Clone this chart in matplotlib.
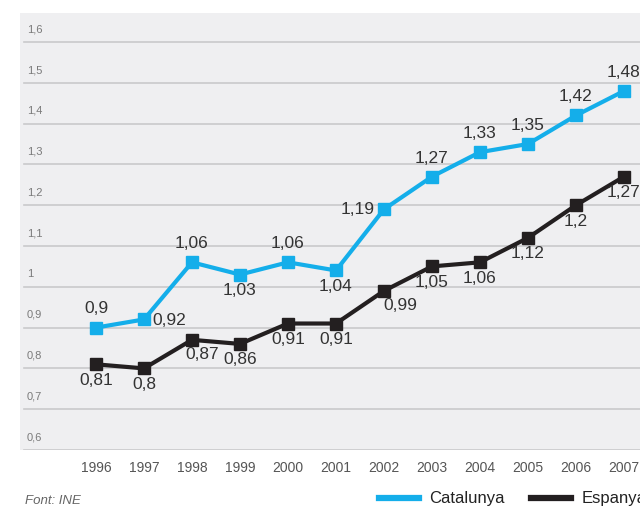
import matplotlib
matplotlib.use("Agg")
import matplotlib.pyplot as plt
from matplotlib.lines import Line2D

years = [1996, 1997, 1998, 1999, 2000, 2001, 2002, 2003, 2004, 2005, 2006, 2007]
catalunya = [0.90, 0.92, 1.06, 1.03, 1.06, 1.04, 1.19, 1.27, 1.33, 1.35, 1.42, 1.48]
espanya = [0.81, 0.80, 0.87, 0.86, 0.91, 0.91, 0.99, 1.05, 1.06, 1.12, 1.20, 1.27]
yticks = [0.6, 0.7, 0.8, 0.9, 1.0, 1.1, 1.2, 1.3, 1.4, 1.5, 1.6]
ytick_labels = ["0,6", "0,7", "0,8", "0,9", "1", "1,1", "1,2", "1,3", "1,4", "1,5", "1,6"]

# label placement
cat_pos = ["above", "right", "above", "below", "above", "below", "left",
           "above", "above", "above", "above", "above"]
esp_pos = ["below", "below", "belowright", "below", "below", "below", "belowright",
           "below", "below", "below", "below", "below"]

plt.rcParams['font.family'] = ['Liberation Sans', 'DejaVu Sans']

blue = "#14aeea"
black = "#231f20"

fig = plt.figure(figsize=(6.4, 5.08), dpi=100)
W, H = 640, 508
ax = fig.add_axes([20 / W, 1 - 450 / H, 630 / W, 437 / H])
ax.set_facecolor("#efeff1")
for s in ax.spines.values():
    s.set_visible(False)

ax.set_xlim(1994.417, 1994.417 + 630 / 48)
ax.set_ylim(0.6, 0.6 + 437 / 408)

for y, lab in zip(yticks, ytick_labels):
    ax.axhline(y, color="#c9c9cb", lw=1.2, zorder=1, xmin=4 / 630)
    ax.annotate(lab, xy=(0, y), xycoords=("axes fraction", "data"),
                xytext=(5, 5.5), textcoords="offset points", ha="left", va="bottom",
                fontsize=8, color="#7a7a7a")

ax.set_yticks([])
ax.set_xticks(years)
ax.set_xticklabels([str(y) for y in years], fontsize=10, color="#555555")
ax.tick_params(axis="x", length=0, pad=8)

ax.plot(years, catalunya, color=blue, lw=3, marker="s", ms=8, zorder=3, clip_on=False)
ax.plot(years, espanya, color=black, lw=3, marker="s", ms=8, zorder=3, clip_on=False)

offs = {
    "above": (0, 8, "center", "bottom"),
    "below": (0, -6, "center", "top"),
    "right": (6, -1, "left", "center"),
    "left": (-7, 0, "right", "center"),
    "belowright": (7, -5, "center", "top"),
}

def fmt(v):
    s = ("%.2f" % v).rstrip("0").rstrip(".")
    return s.replace(".", ",")

for x, v, p in zip(years, catalunya, cat_pos):
    dx, dy, ha, va = offs[p]
    ax.annotate(fmt(v), xy=(x, v), xytext=(dx, dy), textcoords="offset points",
                ha=ha, va=va, fontsize=12.5, color="#333333", zorder=4, annotation_clip=False)
for x, v, p in zip(years, espanya, esp_pos):
    dx, dy, ha, va = offs[p]
    if x == 2002:
        dx = 12
    ax.annotate(fmt(v), xy=(x, v), xytext=(dx, dy), textcoords="offset points",
                ha=ha, va=va, fontsize=12.5, color="#333333", zorder=4, annotation_clip=False)

fig.text(25 / W, 1 - 501 / H, "Font: INE", fontsize=9.5, style="italic",
         color="#666666", ha="left", va="center")

handles = [Line2D([], [], color=blue, lw=4.5), Line2D([], [], color=black, lw=4.5)]
fig.legend(handles, ["Catalunya", "Espanya"], loc="center left",
           bbox_to_anchor=(374 / W, 1 - 499 / H), ncol=2, frameon=False,
           fontsize=12, handlelength=2.4, handletextpad=0.6, columnspacing=1.6,
           labelcolor="#222222", borderaxespad=0, borderpad=0.3)

fig.savefig("out.png", dpi=100)
